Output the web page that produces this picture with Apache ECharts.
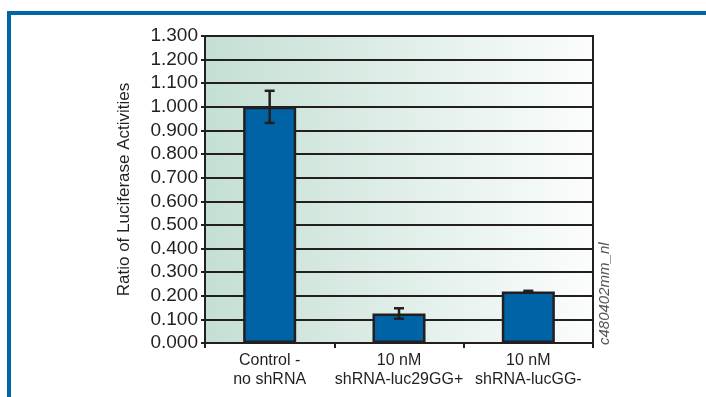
<!DOCTYPE html>
<html>
<head>
<meta charset="utf-8">
<script src="https://cdn.jsdelivr.net/npm/echarts@6/dist/echarts.min.js"></script>
<style>
html,body{margin:0;padding:0;background:#fff;}
#main{width:706px;height:397px;}
</style>
</head>
<body>
<div id="main"></div>
<script>
// categories and values
var categories = ['Control -\nno shRNA', '10 nM\nshRNA-luc29GG+', '10 nM\nshRNA-lucGG-'];
var ratios = [1.000, 0.125, 0.218];
var errors = [0.068, 0.022, 0.003];

var FONT = '"Liberation Sans Narrow", "Liberation Sans", Arial, sans-serif';
var INK = '#231f20';

var errData = [];
for (var i = 0; i < ratios.length; i++) {
    errData.push([i, ratios[i] - errors[i], ratios[i] + errors[i]]);
}

var myChart = echarts.init(document.getElementById('main'));
var option = {
    animation: false,
    grid: {
        left: 205, right: 113, top: 36, bottom: 54,
        show: true,
        borderWidth: 2,
        borderColor: INK,
        backgroundColor: {
            type: 'linear', x: 0, y: 0, x2: 1, y2: 0,
            colorStops: [
                {offset: 0, color: '#c4dfd4'},
                {offset: 1, color: '#fbfdfc'}
            ]
        }
    },
    xAxis: {
        type: 'category',
        data: categories,
        axisLine: {lineStyle: {color: INK, width: 2}},
        axisTick: {show: true, interval: 0, length: 5, lineStyle: {color: INK, width: 2}},
        axisLabel: {interval: 0, color: '#231f20', fontFamily: FONT, fontSize: 16, lineHeight: 19, margin: 8}
    },
    yAxis: {
        type: 'value',
        min: 0, max: 1.3, interval: 0.1,
        name: 'Ratio of Luciferase Activities',
        nameLocation: 'middle',
        nameGap: 72,
        nameTextStyle: {color: '#231f20', fontFamily: FONT, fontSize: 17},
        axisLine: {show: true, lineStyle: {color: INK, width: 2}},
        axisTick: {show: true, length: 4, lineStyle: {color: INK, width: 2}},
        axisLabel: {
            color: '#231f20', fontFamily: FONT, fontSize: 19, margin: 7,
            formatter: function (v) { return v.toFixed(3); }
        },
        splitLine: {lineStyle: {color: INK, width: 2}}
    },
    series: [
        {
            type: 'bar',
            data: ratios,
            barWidth: '41%',
            itemStyle: {color: '#0063a6', borderColor: INK, borderWidth: 2.5}
        },
        {
            type: 'custom',
            data: errData,
            z: 10,
            renderItem: function (params, api) {
                var x = api.value(0);
                var lo = api.coord([x, api.value(1)]);
                var hi = api.coord([x, api.value(2)]);
                var hw = 5;
                var st = {stroke: INK, lineWidth: 2.5};
                return {
                    type: 'group',
                    children: [
                        {type: 'line', shape: {x1: lo[0], y1: lo[1], x2: hi[0], y2: hi[1]}, style: st},
                        {type: 'line', shape: {x1: hi[0] - hw, y1: hi[1], x2: hi[0] + hw, y2: hi[1]}, style: st},
                        {type: 'line', shape: {x1: lo[0] - hw, y1: lo[1], x2: lo[0] + hw, y2: lo[1]}, style: st}
                    ]
                };
            }
        }
    ],
    graphic: [
        {type: 'rect', shape: {x: 7, y: 11, width: 699, height: 4}, style: {fill: '#0066a6'}},
        {type: 'rect', shape: {x: 7, y: 11, width: 4, height: 386}, style: {fill: '#0066a6'}},
        {
            type: 'text', x: 597, y: 345, rotation: Math.PI / 2,
            style: {
                text: 'c480402mm_nl', fill: '#555', fontFamily: FONT,
                fontStyle: 'italic', fontSize: 15, align: 'left', verticalAlign: 'top'
            }
        }
    ]
};
myChart.setOption(option);
</script>
</body>
</html>
